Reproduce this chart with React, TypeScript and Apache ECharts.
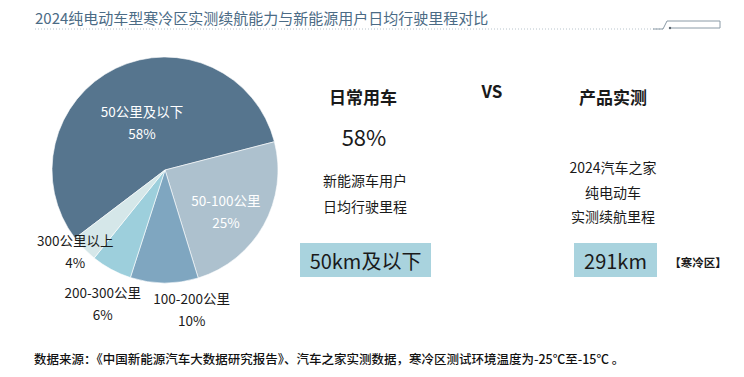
import React, { useEffect, useRef } from "react";
import * as echarts from "echarts";

// ---- data ----
const categories = ["50公里及以下", "50-100公里", "100-200公里", "200-300公里", "300公里以上"];
const shares = [58, 25, 10, 6, 4];
const sliceColors = ["#56758e", "#adc1ce", "#7fa6c0", "#9dcfdc", "#d5e7e9"];
const labelOnSlice = [true, true, false, false, false];
const labelOffsets = [[3, 6], [9, 12], [27, 80], [-34, 81], [-47, 40]];

const titleText = "2024纯电动车型寒冷区实测续航能力与新能源用户日均行驶里程对比";
const sourceText = "数据来源：《中国新能源汽车大数据研究报告》、汽车之家实测数据，寒冷区测试环境温度为-25℃至-15℃ 。";
const leftHeading = "日常用车";
const leftShare = "58%";
const leftDesc = ["新能源车用户", "日均行驶里程"];
const leftValue = "50km及以下";
const rightHeading = "产品实测";
const rightDesc = ["2024汽车之家", "纯电动车", "实测续航里程"];
const rightValue = "291km";
const rightNote = "【寒冷区】";
const vsText = "VS";

const FONT = "'Noto Sans CJK SC', 'Noto Sans', sans-serif";

export default function App() {
  const ref = useRef<HTMLDivElement>(null);
  useEffect(() => {
    if (!ref.current) return;
    const chart = echarts.init(ref.current, null, { renderer: "svg" });
    const dark = "#1a1a1a";
    const txt = (x: number, y: number, text: string, size: number, extra: any = {}) => ({
      type: "text",
      x,
      y,
      style: {
        text,
        fontSize: size,
        fontFamily: FONT,
        fill: dark,
        align: "center",
        verticalAlign: "middle",
        ...extra,
      },
    });
    const graphics: any[] = [
      {
        type: "text",
        x: 35,
        y: 17,
        style: {
          text: titleText,
          fontSize: 15,
          fontFamily: FONT,
          fill: "#4b6b85",
          align: "left",
          verticalAlign: "middle",
        },
      },
      {
        type: "line",
        shape: { x1: 35, y1: 29, x2: 663, y2: 29 },
        style: { stroke: "#b8c4cc", lineWidth: 1, lineDash: [1, 2] },
      },
      {
        type: "polyline",
        shape: { points: [[653, 29], [663, 29], [667, 21], [720, 21], [720, 28], [670, 28]] },
        style: { stroke: "#8a9aa6", lineWidth: 1, fill: "none" },
      },
      { type: "circle", shape: { cx: 670, cy: 28, r: 1.2 }, style: { fill: "#55606a" } },
      txt(363, 96, leftHeading, 17, { fontWeight: "bold" }),
      txt(492, 90, vsText, 17, { fontWeight: "bold" }),
      txt(613, 96, rightHeading, 17, { fontWeight: "bold" }),
      txt(364, 136, leftShare, 22),
      txt(365, 180, leftDesc[0], 14),
      txt(365, 206, leftDesc[1], 14),
      txt(613, 167, rightDesc[0], 14),
      txt(613, 192, rightDesc[1], 14),
      txt(613, 216, rightDesc[2], 14),
      {
        type: "rect",
        shape: { x: 300, y: 243, width: 131, height: 34 },
        style: { fill: "#a9d3de" },
      },
      txt(365.5, 260.5, leftValue, 20),
      {
        type: "rect",
        shape: { x: 574, y: 243, width: 83, height: 34 },
        style: { fill: "#a9d3de" },
      },
      txt(615.5, 260.5, rightValue, 20),
      txt(698, 262, rightNote, 11.5, { fontWeight: "bold" }),
      {
        type: "text",
        x: 34,
        y: 358,
        style: {
          text: sourceText,
          fontSize: 12.5,
          fontWeight: 500,
          fontFamily: FONT,
          fill: "#111111",
          align: "left",
          verticalAlign: "middle",
        },
      },
    ];

    chart.setOption({
      animation: false,
      backgroundColor: "#ffffff",
      graphic: graphics,
      series: [
        {
          type: "pie",
          center: [165, 170],
          radius: 113,
          startAngle: 217.2,
          clockwise: true,
          avoidLabelOverlap: false,
          labelLine: { show: false },
          itemStyle: { borderColor: "#ffffff", borderWidth: 0.6 },
          label: {
            show: true,
            position: "inside",
            formatter: "{b}\n{c}%",
            fontFamily: FONT,
            fontSize: 13.5,
            lineHeight: 22,
            align: "center",
          },
          data: categories.map((name, i) => ({
            name,
            value: shares[i],
            itemStyle: { color: sliceColors[i] },
            label: {
              color: labelOnSlice[i] ? "#ffffff" : "#1a1a1a",
              offset: labelOffsets[i],
            },
          })),
        },
      ],
    });
    return () => chart.dispose();
  }, []);
  return (
    <div
      ref={ref}
      style={{ position: "fixed", left: 0, top: 0, width: 744, height: 377, background: "#fff" }}
    />
  );
}
